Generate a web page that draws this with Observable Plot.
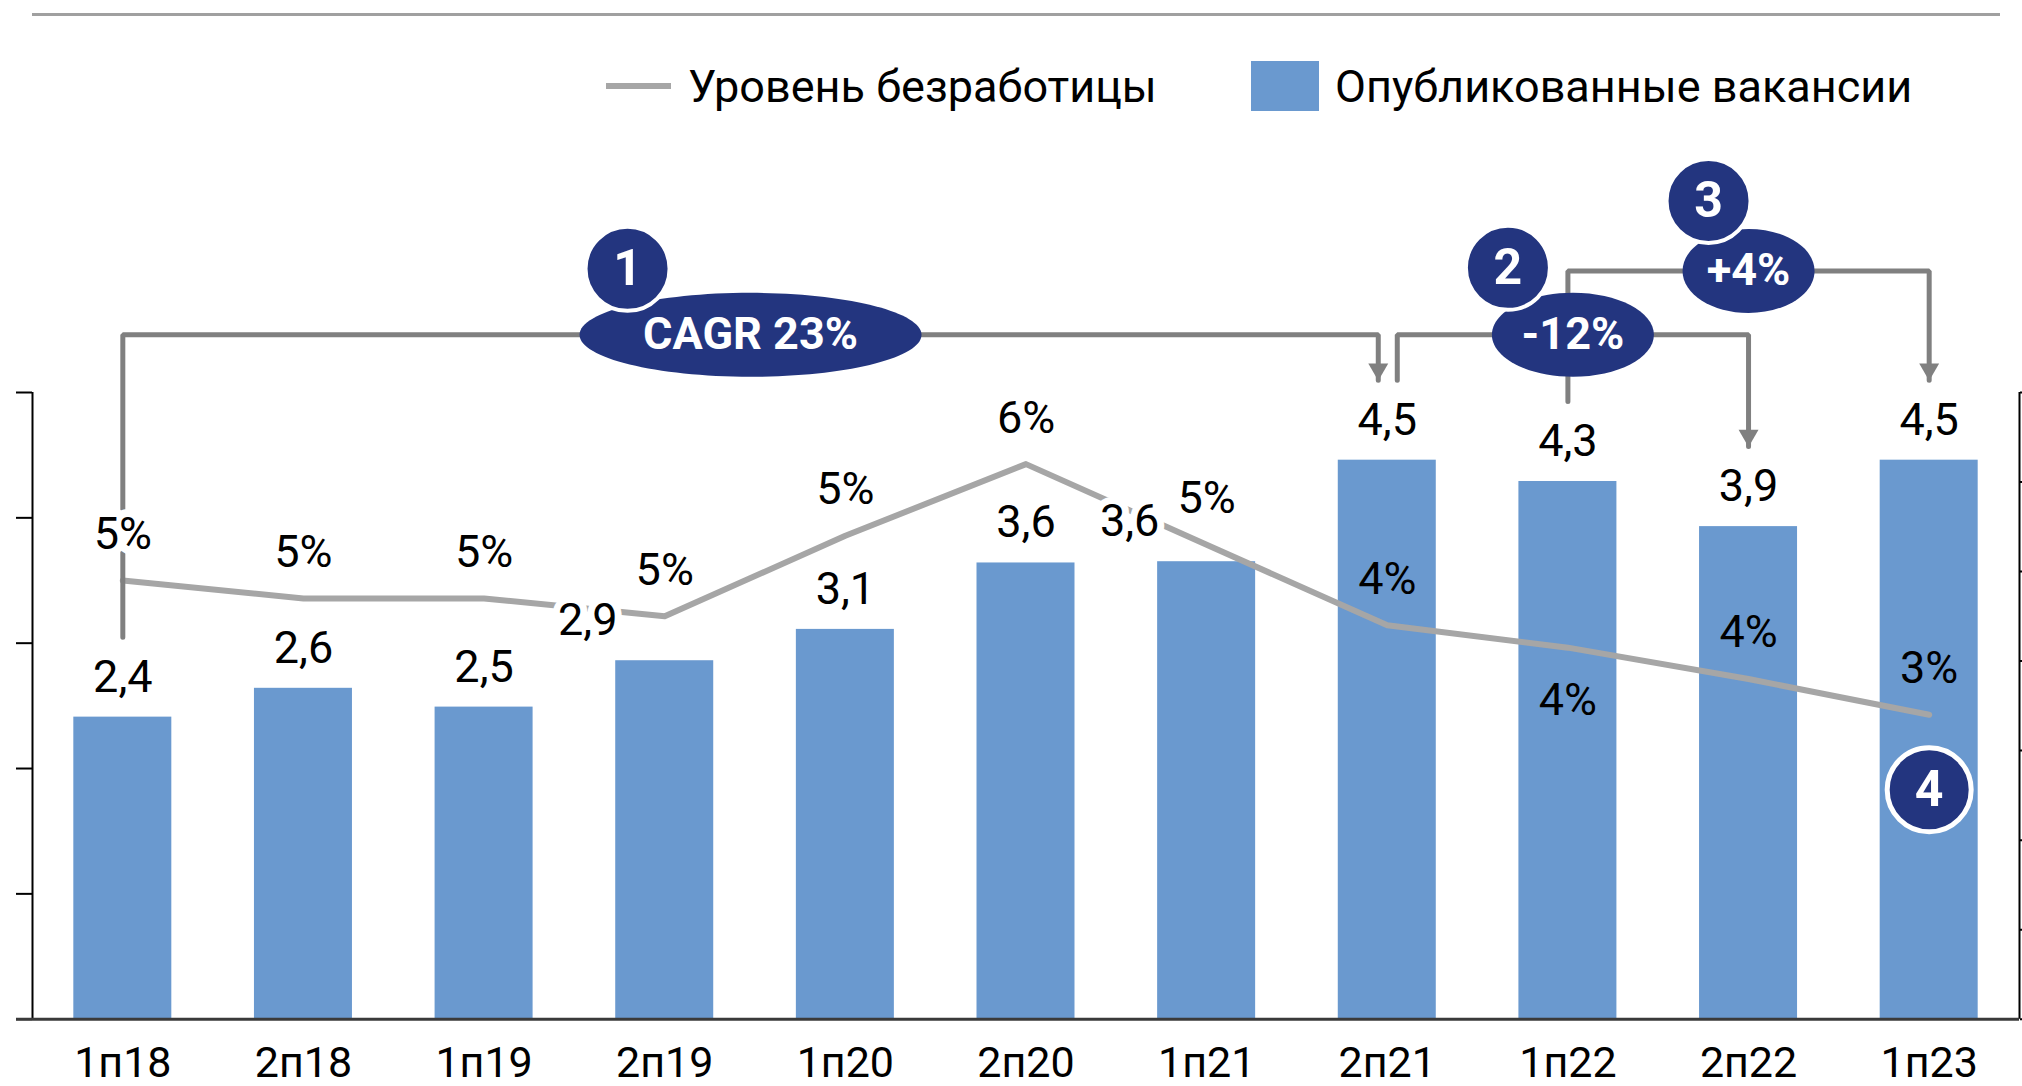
<!DOCTYPE html>
<html>
<head>
<meta charset="utf-8">
<script src="https://cdn.jsdelivr.net/npm/d3@7"></script>
<script src="https://cdn.jsdelivr.net/npm/@observablehq/plot@0.6"></script>
<style>
  body { margin: 0; background: #fff; font-family: Roboto, sans-serif; color: #000; }
  #page { position: relative; width: 2022px; height: 1086px; overflow: hidden; background: #fff; }
  #rule { position: absolute; left: 32px; top: 13px; width: 1968px; height: 3px; background: #a0a0a0; }
  .item { position: absolute; top: 58px; height: 56px; display: flex; align-items: center; font-size: 45px; white-space: nowrap; }
  .sw-line { width: 65px; height: 6px; background: #a6a6a6; margin-right: 17px; }
  .sw-box { width: 68px; height: 50px; background: #6a99cf; margin-right: 16px; }
  #chart { position: absolute; left: 0; top: 140px; }
</style>
</head>
<body>
<div id="page">
  <div id="rule"></div>
  <div class="item" id="leg1" style="left:606px"><span class="sw-line"></span><span class="txt"></span></div>
  <div class="item" id="leg2" style="left:1251px"><span class="sw-box"></span><span class="txt"></span></div>
  <div id="chart"></div>
</div>
<script>
// ---------- DATA ----------
const periods = ["1п18","2п18","1п19","2п19","1п20","2п20","1п21","2п21","1п22","2п22","1п23"];
const vacancies = [2.41, 2.64, 2.49, 2.86, 3.11, 3.64, 3.65, 4.46, 4.29, 3.93, 4.46];   // left axis
const unemployment = [4.9, 4.7, 4.7, 4.5, 5.4, 6.2, 5.3, 4.4, 4.15, 3.8, 3.4];        // right axis, %
const leftTicks = [0, 1, 2, 3, 4, 5];
const rightTicks = [0, 1, 2, 3, 4, 5, 6, 7];
const seriesNames = ["Уровень безработицы", "Опубликованные вакансии"];
const bracketFrom = ["1п18", "2п21", "1п22"];
const bracketTo = ["2п21", "2п22", "1п23"];
const bracketLabels = ["CAGR 23%", "-12%", "+4%"];
const bracketNumbers = ["1", "2", "3"];
const lowMarkerPeriod = "1п23";
const lowMarkerNumber = "4";

// ---------- LAYOUT / STYLE ----------
const W = 2022, H = 946, mT = 252, mB = 67.3, mL = 32, mR = 3;
const xDomain = [-0.5, periods.length - 0.5];
const yDomain = [leftTicks[0], leftTicks[leftTicks.length - 1]];
const pxX = (W - mL - mR) / periods.length;
const pxY = (H - mT - mB) / (yDomain[1] - yDomain[0]);
const rightMax = rightTicks[rightTicks.length - 1];
const toLeft = p => p * yDomain[1] / rightMax;
const NAVY = "#23357f", BAR = "#6a99cf", LINE = "#a6a6a6", BRACKET = "#808080";
const barHalf = 49 / pxX;
const labelShiftLeft = new Set(["2п19", "1п21"]);
const lineLabelBelow = new Set(["1п22"]);
const legGap = 80 / pxY;
const bracketLevels = [5.46, 5.46, 5.97];
const fromDxPx = [0, 10, 0], toDxPx = [-9, 0, 0];
const markerOffsetPx = [[-123, -66], [-65, -67], [-40, -70]];
const ellipseRx = [171, 81, 66], ellipseRy = 42;

document.querySelector("#leg1 .txt").textContent = seriesNames[0];
document.querySelector("#leg2 .txt").textContent = seriesNames[1];

const fmtComma = v => d3.format(".1f")(v).replace(".", ",");
const fmtPct = v => Math.round(v) + "%";

const data = periods.map((p, i) => ({p, i, v: vacancies[i], u: unemployment[i], uy: toLeft(unemployment[i])}));
const byP = Object.fromEntries(data.map(d => [d.p, d]));

// brackets
const bracketPts = [], arrows = [], ellipses = [], markers = [];
bracketFrom.forEach((f, k) => {
  const a = byP[f], b = byP[bracketTo[k]];
  const xf = a.i + fromDxPx[k] / pxX, xt = b.i + toDxPx[k] / pxX;
  const lvl = bracketLevels[k];
  bracketPts.push({k, x: xf, y: a.v + legGap}, {k, x: xf, y: lvl}, {k, x: xt, y: lvl}, {k, x: xt, y: b.v + legGap});
  arrows.push({x: xt, y: b.v + legGap});
  const mid = (xf + xt) / 2;
  ellipses.push({x: mid, y: lvl, rx: ellipseRx[k], text: bracketLabels[k]});
  markers.push({x: mid + markerOffsetPx[k][0] / pxX, y: lvl - markerOffsetPx[k][1] / pxY, text: bracketNumbers[k]});
});

const ellipseSymbol = {
  draw(ctx, size) {
    const rx = Math.sqrt(size / Math.PI), ry = ellipseRy, k = 0.5523;
    ctx.moveTo(rx, 0);
    ctx.bezierCurveTo(rx, k * ry, k * rx, ry, 0, ry);
    ctx.bezierCurveTo(-k * rx, ry, -rx, k * ry, -rx, 0);
    ctx.bezierCurveTo(-rx, -k * ry, -k * rx, -ry, 0, -ry);
    ctx.bezierCurveTo(k * rx, -ry, rx, -k * ry, rx, 0);
    ctx.closePath();
  }
};

const lineLabelHalo = d => (d.uy + 46 / pxY) > d.v; // label sits above the bar

const chart = Plot.plot({
  width: W, height: H,
  marginTop: mT, marginBottom: mB, marginLeft: mL, marginRight: mR,
  x: {type: "linear", domain: xDomain, axis: null},
  y: {domain: yDomain, axis: null},
  r: {type: "identity"},
  style: {fontFamily: "Roboto, sans-serif", fontSize: "45px", color: "#000", background: "#fff"},
  marks: [
    Plot.rectY(data, {x1: d => d.i - barHalf, x2: d => d.i + barHalf, y: "v", fill: BAR}),
    Plot.axisX({ticks: d3.range(periods.length), tickFormat: i => periods[i], tickSize: 0, tickPadding: 27, fontSize: 43, label: null}),
    Plot.axisY({anchor: "left", ticks: leftTicks, tickSize: 16, tickFormat: () => "", stroke: "#000", strokeWidth: 2, label: null}),
    Plot.axisY({anchor: "right", ticks: rightTicks.map(toLeft), tickSize: 6, tickFormat: () => "", stroke: "#000", strokeWidth: 2, label: null}),
    Plot.ruleX([xDomain[0]], {y1: yDomain[0], y2: yDomain[1], stroke: "#000", strokeWidth: 2}),
    Plot.ruleX([xDomain[1]], {y1: yDomain[0], y2: yDomain[1], stroke: "#000", strokeWidth: 2}),
    Plot.ruleY([yDomain[0]], {stroke: "#3a3a3a", strokeWidth: 3, insetLeft: -16}),
    Plot.line(data, {x: "i", y: "uy", stroke: LINE, strokeWidth: 6, strokeLinejoin: "round"}),
    Plot.line(bracketPts, {x: "x", y: "y", z: "k", stroke: BRACKET, strokeWidth: 5, strokeLinejoin: "miter"}),
    Plot.dot(arrows, {x: "x", y: "y", symbol: "triangle", r: 7.4, rotate: 180, dy: -11, fill: BRACKET, stroke: "none"}),
    // bar labels
    Plot.text(data.filter(d => !labelShiftLeft.has(d.p)), {x: "i", y: "v", text: d => fmtComma(d.v), dy: -40, fill: "#000", stroke: "#fff", strokeWidth: 14}),
    Plot.text(data.filter(d => labelShiftLeft.has(d.p)), {x: "i", y: "v", text: d => fmtComma(d.v), dy: -40, dx: -77, fill: "#000", stroke: "#fff", strokeWidth: 14}),
    // line labels
    Plot.text(data.filter(d => !lineLabelBelow.has(d.p) && lineLabelHalo(d)), {x: "i", y: "uy", text: d => fmtPct(d.u), dy: -46, fill: "#000", stroke: "#fff", strokeWidth: 16}),
    Plot.text(data.filter(d => !lineLabelBelow.has(d.p) && !lineLabelHalo(d)), {x: "i", y: "uy", text: d => fmtPct(d.u), dy: -46, fill: "#000"}),
    Plot.text(data.filter(d => lineLabelBelow.has(d.p)), {x: "i", y: "uy", text: d => fmtPct(d.u), dy: 53, fill: "#000"}),
    // annotation ellipses
    Plot.dot(ellipses, {x: "x", y: "y", r: "rx", symbol: ellipseSymbol, fill: NAVY, stroke: "none"}),
    Plot.text(ellipses, {x: "x", y: "y", text: "text", fill: "#fff", fontWeight: "bold", fontSize: 45}),
    Plot.dot(markers, {x: "x", y: "y", r: 42, fill: NAVY, stroke: "#fff", strokeWidth: 4}),
    Plot.text(markers, {x: "x", y: "y", text: "text", fill: "#fff", fontWeight: "bold", fontSize: 50}),
    // low marker 4
    Plot.dot([byP[lowMarkerPeriod]], {x: "i", y: "uy", dy: 75, r: 42, fill: NAVY, stroke: "#fff", strokeWidth: 5}),
    Plot.text([byP[lowMarkerPeriod]], {x: "i", y: "uy", dy: 75, text: () => lowMarkerNumber, fill: "#fff", fontWeight: "bold", fontSize: 50})
  ]
});
document.getElementById("chart").appendChild(chart);
</script>
</body>
</html>
